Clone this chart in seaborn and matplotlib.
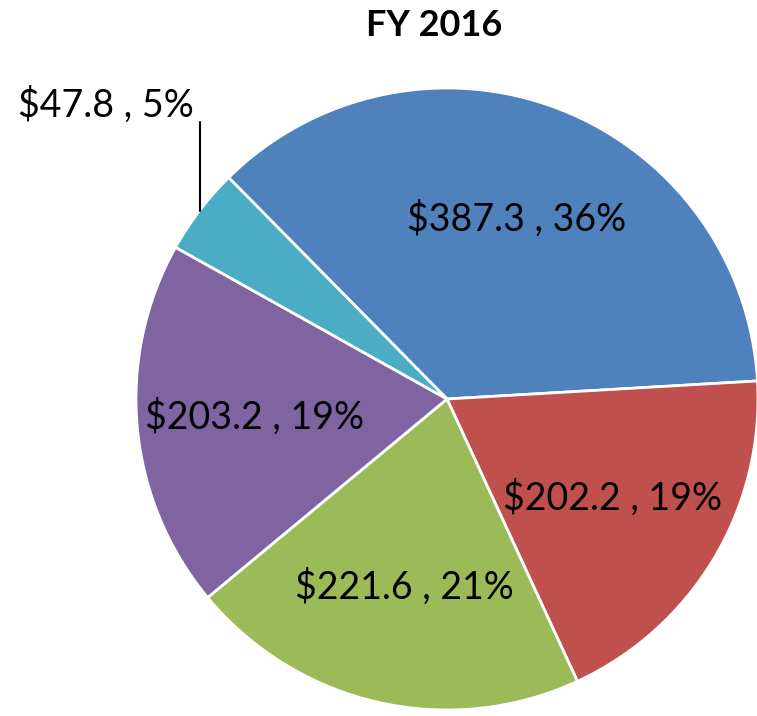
import matplotlib.pyplot as plt
import numpy as np
import seaborn as sns

# FY 2016 values ($) in clockwise order starting at the top-left
categories = ["A", "B", "C", "D", "E"]
values = [387.3, 202.2, 221.6, 203.2, 47.8]
colors = ["#4F81BD", "#C0504D", "#9BBB59", "#8064A2", "#4BACC6"]
title = "FY 2016"

sns.set_theme(style="white")
plt.rcParams["font.family"] = ["Lato", "DejaVu Sans"]

W, H = 757, 716
fig = plt.figure(figsize=(W / 100, H / 100), dpi=100)
cx, cy, r = 447, 399, 311
ax = fig.add_axes([(cx - r) / W, (H - cy - r) / H, 2 * r / W, 2 * r / H])

total = sum(values)


def fmt(pct):
    val = pct * total / 100
    if pct < 8:
        return ""
    return f"${val:.1f} , {pct:.0f}%"


wedges, texts, autotexts = ax.pie(
    values, colors=colors, startangle=134.6, counterclock=False,
    autopct=fmt, pctdistance=0.62, radius=1,
    wedgeprops=dict(edgecolor="white", linewidth=2),
    textprops=dict(fontsize=27, color="black"),
)
ax.set_xlim(-1, 1)
ax.set_ylim(-1, 1)
ax.set_aspect("equal")
ax.axis("off")

# small slice label with leader line
w = wedges[-1]
mid = np.deg2rad((w.theta1 + w.theta2) / 2)
x0, y0 = np.cos(mid), np.sin(mid)
ax.plot([x0, x0], [y0, 0.89], color="black", lw=1.5, clip_on=False)
ax.text(x0 - 0.02, 0.945, f"${values[-1]:.1f} , {values[-1] / total * 100:.0f}%",
        ha="right", va="center", fontsize=27, color="black")

fig.text(434 / W, 1 - 25 / H, title, ha="center", va="center",
         fontsize=26, fontweight="bold", color="black")

fig.savefig("out.png", dpi=100)
